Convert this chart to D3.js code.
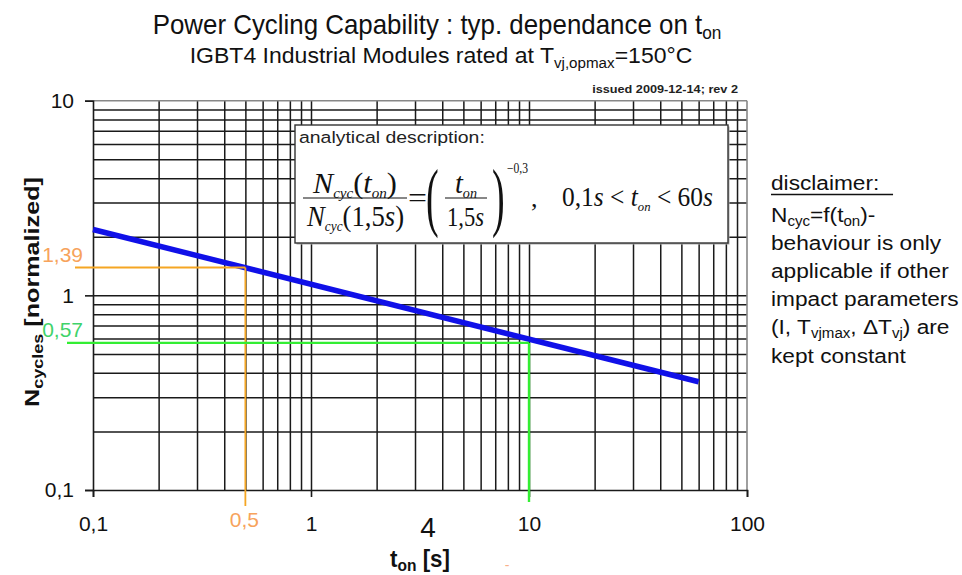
<!DOCTYPE html>
<html><head><meta charset="utf-8">
<script src="https://cdn.jsdelivr.net/npm/d3@7"></script>
<style>body{margin:0;background:#fff} svg{display:block}</style>
</head><body>
<svg id="c" width="962" height="575"></svg>
<script>
// ---- data ----
const xTicks = [0.1, 1, 10, 100];
const xTickLabels = ["0,1", "1", "10", "100"];
const yTicks = [0.1, 1, 10];
const yTickLabels = ["0,1", "1", "10"];
const tOn = [0.1, 60];
const nCycles = [2.18, 0.36];
const markT = [0.5, 10];
const markN = [1.39, 0.57];
const markNLabels = ["1,39", "0,57"];
const markTLabel = "0,5";
const disclaimerLines = [
  [["N",0],["cyc",1],["=f(t",0],["on",1],[")-",0]],
  [["behaviour is only",0]],
  [["applicable if other",0]],
  [["impact parameters",0]],
  [["(I, T",0],["vjmax",1],[", \u0394T",0],["vj",1],[") are",0]],
  [["kept constant",0]]
];

const svg = d3.select("#c");
const SANS = "'Liberation Sans', Arial, sans-serif";
const NARROW = "'Liberation Sans Narrow', 'Liberation Sans', Arial, sans-serif";
const SERIF = "'Liberation Serif', 'Times New Roman', serif";

const x = d3.scaleLog().domain([0.1, 100]).range([93, 747]);
const y = d3.scaleLog().domain([0.1, 10]).range([490, 100.7]);
const X0 = x.range()[0], X1 = x.range()[1], Y0 = y.range()[0], Y1 = y.range()[1];

function fitX(sel, target) {
  const w = sel.node().getBBox().width;
  const t = sel.attr("transform") || "";
  sel.attr("transform", t + ` scale(${target / w},1)`);
}
function addRuns(textSel, runs, size, subSize, subShift) {
  let shifted = false;
  runs.forEach(([s, sub]) => {
    const ts = textSel.append("tspan").text(s);
    if (sub && !shifted) { ts.attr("dy", subShift).attr("font-size", subSize); shifted = true; }
    else if (!sub && shifted) { ts.attr("dy", -subShift); shifted = false; }
    else if (sub) ts.attr("font-size", subSize);
  });
}

// ---- titles ----
const t1 = svg.append("text").attr("transform", "translate(437,34)")
  .attr("text-anchor", "middle").attr("font-family", NARROW).attr("font-size", 27).attr("fill", "#111");
addRuns(t1, [["Power Cycling Capability : typ. dependance on t",0],["on",1]], 27, 18, 5);
fitX(t1, 569);
const t2 = svg.append("text").attr("transform", "translate(441,63)")
  .attr("text-anchor", "middle").attr("font-family", NARROW).attr("font-size", 22).attr("fill", "#111");
addRuns(t2, [["IGBT4 Industrial Modules rated at T",0],["vj,opmax",1],["=150°C",0]], 22, 14.5, 5);
fitX(t2, 503);
const t3 = svg.append("text").attr("transform", "translate(738,93)")
  .attr("text-anchor", "end").attr("font-family", NARROW).attr("font-weight", "bold")
  .attr("font-size", 11).attr("fill", "#222").text("issued 2009-12-14; rev 2");
fitX(t3, 146);

// ---- grid ----
const grid = svg.append("g");
const gxv = x.ticks().filter(v => v > 0.1 * 1.0001 && v < 100 * 0.9999);
const gyv = y.ticks().filter(v => v > 0.1 * 1.0001 && v < 10 * 0.9999);
grid.append("g").attr("transform", `translate(0,${Y0})`)
  .call(d3.axisBottom(x).tickValues(gxv).tickSize(-(Y0 - Y1)).tickFormat(""))
  .call(g => g.select(".domain").remove())
  .call(g => g.selectAll("line").attr("stroke", "#1a1a1a").attr("stroke-width", 1.5));
grid.append("g").attr("transform", `translate(${X0},0)`)
  .call(d3.axisLeft(y).tickValues(gyv).tickSize(-(X1 - X0)).tickFormat(""))
  .call(g => g.select(".domain").remove())
  .call(g => g.selectAll("line").attr("stroke", "#1a1a1a").attr("stroke-width", 1.5));
svg.append("line").attr("x1", X0).attr("x2", X1).attr("y1", Y1).attr("y2", Y1).attr("stroke", "#888").attr("stroke-width", 1.6);
svg.append("line").attr("x1", X1).attr("x2", X1).attr("y1", Y1).attr("y2", Y0).attr("stroke", "#888").attr("stroke-width", 1.6);

// ---- axes ----
const ax = svg.append("g").attr("transform", `translate(0,${Y0})`)
  .call(d3.axisBottom(x).tickValues(xTicks).tickSize(7).tickFormat((d, i) => xTickLabels[i]));
ax.select(".domain").attr("stroke", "#1a1a1a").attr("stroke-width", 1.6);
ax.selectAll("line").attr("stroke", "#1a1a1a").attr("stroke-width", 1.6);
ax.selectAll("text").attr("dy", null).attr("y", 41).attr("font-size", 21)
  .attr("font-family", SANS).attr("fill", "#111");

const ay = svg.append("g").attr("transform", `translate(${X0},0)`)
  .call(d3.axisLeft(y).tickValues(yTicks).tickSize(8).tickPadding(11).tickFormat((d, i) => yTickLabels[i]));
ay.select(".domain").attr("stroke", "#1a1a1a").attr("stroke-width", 1.6);
ay.selectAll("line").attr("stroke", "#1a1a1a").attr("stroke-width", 1.6);
ay.selectAll("text").attr("font-size", 21).attr("font-family", SANS).attr("fill", "#111");

// ---- annotation box ----
svg.append("rect").attr("x", 296.5).attr("y", 126.5).attr("width", 433).attr("height", 118).attr("fill", "#aaa");
svg.append("rect").attr("x", 295).attr("y", 125).attr("width", 433).attr("height", 118)
  .attr("fill", "#fff").attr("stroke", "#333").attr("stroke-width", 1.4);
const ad = svg.append("text").attr("transform", "translate(299,143)").attr("font-family", SANS).attr("font-size", 17)
  .attr("fill", "#222").text("analytical description:");
fitX(ad, 186);

function mathText(xp, yp, runs, size, target) {
  const t = svg.append("text").attr("transform", `translate(${xp},${yp})`).attr("font-family", SERIF)
    .attr("font-size", size).attr("fill", "#111");
  let shifted = 0;
  runs.forEach(([s, it, sub]) => {
    const ts = t.append("tspan").text(s);
    if (it) ts.attr("font-style", "italic");
    if (sub) { ts.attr("font-size", size * 0.5); if (!shifted) { ts.attr("dy", 5); shifted = 1; } }
    else if (shifted) { ts.attr("dy", -5); shifted = 0; }
  });
  if (target) fitX(t, target);
  return t;
}
mathText(313, 193, [["N",1,0],["cyc",1,1],["(",0,0],["t",1,0],["on",1,1],[")",0,0]], 29, 85);
mathText(307, 226, [["N",1,0],["cyc",1,1],["(1,5",0,0],["s",1,0],[")",0,0]], 29, 98);
svg.append("line").attr("x1", 303).attr("x2", 407).attr("y1", 198).attr("y2", 198).attr("stroke", "#111").attr("stroke-width", 1.2);
mathText(408, 207, [["=",0,0]], 28, 19);
svg.append("text").attr("transform", "translate(426,222) scale(0.5,1)").attr("font-family", SERIF)
  .attr("font-size", 76).attr("fill", "#111").text("(");
mathText(455, 193, [["t",1,0],["on",1,1]], 29, 22);
svg.append("line").attr("x1", 445).attr("x2", 487).attr("y1", 198).attr("y2", 198).attr("stroke", "#111").attr("stroke-width", 1.2);
mathText(447, 226, [["1,5",0,0],["s",1,0]], 27, 37);
svg.append("text").attr("transform", "translate(492,222) scale(0.5,1)").attr("font-family", SERIF)
  .attr("font-size", 76).attr("fill", "#111").text(")");
mathText(507, 173, [["\u22120,3",0,0]], 14, 21);
mathText(531, 207, [[",",0,0]], 26);
mathText(562, 206, [["0,1",0,0],["s",1,0],[" < ",0,0],["t",1,0],["on",1,1],[" < 60",0,0],["s",1,0]], 27, 151);

// ---- curve ----
const line = d3.line().x(d => x(d[0])).y(d => y(d[1]));
svg.append("path").datum(tOn.map((t, i) => [t, nCycles[i]]))
  .attr("d", line).attr("fill", "none").attr("stroke", "#1010e8").attr("stroke-width", 5.5);

// ---- markers ----
const markColors = ["#f5a623", "#33ee33"];
const markLabelColors = ["#f7a35c", "#3fd36a"];
const markLeft = [75, 67];
const markBottom = [506, 502];
markT.forEach((t, i) => {
  svg.append("line").attr("x1", markLeft[i]).attr("x2", x(t)).attr("y1", y(markN[i])).attr("y2", y(markN[i]))
    .attr("stroke", markColors[i]).attr("stroke-width", i ? 2.4 : 1.8);
  svg.append("line").attr("x1", x(t)).attr("x2", x(t)).attr("y1", y(markN[i])).attr("y2", markBottom[i])
    .attr("stroke", markColors[i]).attr("stroke-width", i ? 2.4 : 1.8);
  svg.append("text").attr("x", 83).attr("y", y(markN[i]) - 6).attr("text-anchor", "end")
    .attr("font-family", SANS).attr("font-size", 21).attr("fill", markLabelColors[i]).text(markNLabels[i]);
});
svg.append("text").attr("x", x(markT[0]) - 1).attr("y", 527).attr("text-anchor", "middle")
  .attr("font-family", SANS).attr("font-size", 21).attr("fill", markLabelColors[0]).text(markTLabel);
svg.append("text").attr("x", 428).attr("y", 537).attr("text-anchor", "middle")
  .attr("font-family", SANS).attr("font-size", 28).attr("fill", "#111").text("4");
svg.append("text").attr("x", 507).attr("y", 570).attr("text-anchor", "middle")
  .attr("font-family", SANS).attr("font-size", 14).attr("fill", "#f9b08a").text("-");

// ---- axis titles ----
const xt = svg.append("text").attr("transform", "translate(420,567)").attr("text-anchor", "middle")
  .attr("font-family", SANS).attr("font-weight", "bold").attr("font-size", 23).attr("fill", "#111");
addRuns(xt, [["t",0],["on",1],[" [s]",0]], 23, 16, 4);
fitX(xt, 60);
const yt = svg.append("text").attr("transform", "translate(39,292) rotate(-90)").attr("text-anchor", "middle")
  .attr("font-family", SANS).attr("font-weight", "bold").attr("font-size", 21).attr("fill", "#111");
addRuns(yt, [["N",0],["cycles",1],[" [normalized]",0]], 21, 15, 4);
fitX(yt, 230);

// ---- disclaimer ----
const dg = svg.append("g").attr("transform", "translate(771,0) scale(1.08,1)");
dg.append("text").attr("x", 0).attr("y", 190).attr("font-family", SANS).attr("font-size", 21)
  .attr("fill", "#111").text("disclaimer:");
dg.append("line").attr("x1", 0).attr("x2", 113).attr("y1", 194.5).attr("y2", 194.5).attr("stroke", "#111").attr("stroke-width", 1.5);
disclaimerLines.forEach((runs, i) => {
  const t = dg.append("text").attr("x", 0).attr("y", 221.7 + i * 28.2).attr("font-family", SANS)
    .attr("font-size", 21).attr("fill", "#111");
  addRuns(t, runs, 21, 14, 4);
});
</script>
</body></html>
